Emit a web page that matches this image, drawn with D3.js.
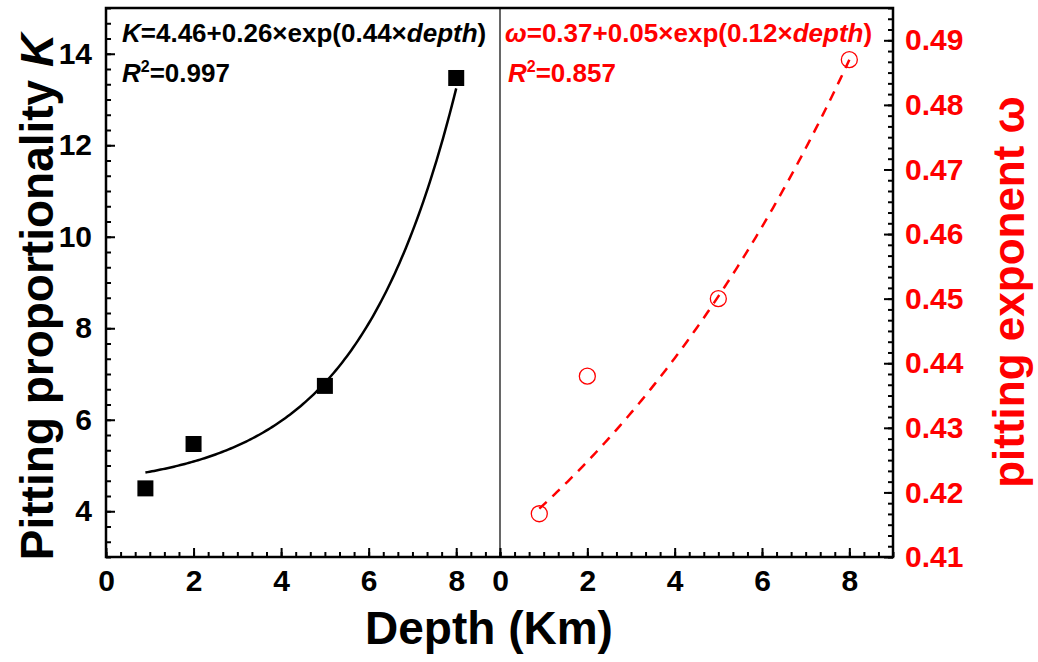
<!DOCTYPE html>
<html>
<head>
<meta charset="utf-8">
<script src="https://cdn.jsdelivr.net/npm/d3@7"></script>
<style>
  body { margin: 0; background: #fff; }
  svg { font-family: "Liberation Sans", Arial, sans-serif; font-weight: bold; }
</style>
</head>
<body>
<div id="chart-area"></div>
<script>
// data
var depth = [0.9, 2, 5, 8];
var kValues = [4.50, 5.47, 6.74, 13.47];
var omegaValues = [0.4167, 0.4380, 0.4500, 0.4870];

// fitted curves  y = a + b*exp(c*depth)
var kFit = { a: 4.46, b: 0.26, c: 0.44 };
var omegaFit = { a: 0.3658, b: 0.0464, c: 0.12 };

var xTicks = [0, 2, 4, 6, 8];
var kTicks = [4, 6, 8, 10, 12, 14];
var omegaTicks = [0.41, 0.42, 0.43, 0.44, 0.45, 0.46, 0.47, 0.48, 0.49];

var width = 1038, height = 662;
var plotLeft = 106, plotMid = 500, plotRight = 893, plotTop = 8, plotBottom = 557;

var svg = d3.select('#chart-area')
    .append('svg')
        .attr('width', width)
        .attr('height', height);

var xL = d3.scaleLinear().domain([0, 9]).range([plotLeft, plotMid]);
var xR = d3.scaleLinear().domain([0, 9]).range([plotMid, plotRight]);
var yK = d3.scaleLinear().domain([3, 15]).range([plotBottom, plotTop]);
var yW = d3.scaleLinear().domain([0.41, 0.495]).range([plotBottom, plotTop]);

function minorTicks(lo, hi, step) {
    var out = [];
    for (var v = lo; v <= hi + 1e-9; v += step) out.push(+v.toFixed(6));
    return out;
}

function styleAxis(sel, color) {
    sel.attr('font-size', null).attr('font-family', null);
    sel.select('.domain').remove();
    sel.selectAll('line').attr('stroke', '#000').attr('stroke-width', 2);
    sel.selectAll('text')
        .attr('fill', color)
        .style('font-size', '30px')
        .style('font-weight', 'bold');
}

// bottom axes, both panels
[xL, xR].forEach(function (x) {
    var gMinor = svg.append('g')
        .attr('transform', 'translate(0,' + plotBottom + ')')
        .call(d3.axisBottom(x).tickValues(minorTicks(0, 9, 1 / 3)).tickFormat('').tickSizeInner(-5).tickSizeOuter(0));
    styleAxis(gMinor, '#000');
    var gMajor = svg.append('g')
        .attr('transform', 'translate(0,' + plotBottom + ')')
        .call(d3.axisBottom(x).tickValues(xTicks).tickFormat(d3.format('d')).tickSizeInner(-9).tickSizeOuter(0).tickPadding(13));
    styleAxis(gMajor, '#000');
});

// left axis (K)
var gKMinor = svg.append('g')
    .attr('transform', 'translate(' + plotLeft + ',0)')
    .call(d3.axisLeft(yK).tickValues(minorTicks(3, 15, 1 / 3)).tickFormat('').tickSizeInner(-5).tickSizeOuter(0));
styleAxis(gKMinor, '#000');
var gK = svg.append('g')
    .attr('transform', 'translate(' + plotLeft + ',0)')
    .call(d3.axisLeft(yK).tickValues(kTicks).tickFormat(d3.format('d')).tickSizeInner(-9).tickSizeOuter(0).tickPadding(14));
styleAxis(gK, '#000');

// right axis (omega)
var gWMinor = svg.append('g')
    .attr('transform', 'translate(' + plotRight + ',0)')
    .call(d3.axisRight(yW).tickValues(minorTicks(0.41, 0.495, 0.01 / 6)).tickFormat('').tickSizeInner(-5).tickSizeOuter(0));
styleAxis(gWMinor, '#000');
var gW = svg.append('g')
    .attr('transform', 'translate(' + plotRight + ',0)')
    .call(d3.axisRight(yW).tickValues(omegaTicks).tickFormat(d3.format('.2f')).tickSizeInner(-9).tickSizeOuter(0).tickPadding(12));
styleAxis(gW, '#ff0000');

// frame and divider
svg.append('rect')
    .attr('x', plotLeft).attr('y', plotTop)
    .attr('width', plotRight - plotLeft).attr('height', plotBottom - plotTop)
    .attr('fill', 'none').attr('stroke', '#000').attr('stroke-width', 2.5);
svg.append('line')
    .attr('x1', plotMid).attr('x2', plotMid).attr('y1', plotTop).attr('y2', plotBottom)
    .attr('stroke', '#000').attr('stroke-width', 1.2);

// fit curves
var fitX = d3.range(0.9, 8.0001, 0.05);
var kLine = d3.line()
    .x(function (d) { return xL(d); })
    .y(function (d) { return yK(kFit.a + kFit.b * Math.exp(kFit.c * d)); });
svg.append('path')
    .datum(fitX)
    .attr('d', kLine)
    .attr('fill', 'none').attr('stroke', '#000').attr('stroke-width', 2.5);

var wLine = d3.line()
    .x(function (d) { return xR(d); })
    .y(function (d) { return yW(omegaFit.a + omegaFit.b * Math.exp(omegaFit.c * d)); });
svg.append('path')
    .datum(fitX)
    .attr('d', wLine)
    .attr('fill', 'none').attr('stroke', '#ff0000').attr('stroke-width', 2.5)
    .attr('stroke-dasharray', '10,8');

// markers
var sq = 16;
svg.selectAll('rect.k').data(depth)
    .enter().append('rect')
    .attr('class', 'k')
    .attr('x', function (d) { return xL(d) - sq / 2; })
    .attr('y', function (d, i) { return yK(kValues[i]) - sq / 2; })
    .attr('width', sq).attr('height', sq)
    .attr('fill', '#000');

svg.selectAll('circle.w').data(depth)
    .enter().append('circle')
    .attr('class', 'w')
    .attr('cx', function (d) { return xR(d); })
    .attr('cy', function (d, i) { return yW(omegaValues[i]); })
    .attr('r', 8)
    .attr('fill', 'none').attr('stroke', '#ff0000').attr('stroke-width', 1.3);

// equations
function equation(x, y, color, parts) {
    var t = svg.append('text').attr('x', x).attr('y', y)
        .attr('fill', color).attr('font-size', '26px');
    parts.forEach(function (p) {
        var s = t.append('tspan').text(p.t);
        if (p.i) s.attr('font-style', 'italic');
        if (p.sup) s.attr('font-size', '16px').attr('dy', -10);
        if (p.down) s.attr('dy', 10);
    });
}
equation(122, 42, '#000', [{ t: 'K', i: true }, { t: '=4.46+0.26×exp(0.44×' }, { t: 'depth', i: true }, { t: ')' }]);
equation(122, 82, '#000', [{ t: 'R', i: true }, { t: '2', sup: true }, { t: '=0.997', down: true }]);
equation(505, 42, '#ff0000', [{ t: 'ω', i: true }, { t: '=0.37+0.05×exp(0.12×' }, { t: 'depth', i: true }, { t: ')' }]);
equation(508, 82, '#ff0000', [{ t: 'R', i: true }, { t: '2', sup: true }, { t: '=0.857', down: true }]);

// axis titles
svg.append('text')
    .attr('x', 489).attr('y', 644)
    .attr('text-anchor', 'middle')
    .attr('font-size', '46px')
    .text('Depth (Km)');

var kTitle = svg.append('text')
    .attr('transform', 'translate(53,' + 297 + ') rotate(-90)')
    .attr('text-anchor', 'middle')
    .attr('font-size', '46px');
kTitle.append('tspan').text('Pitting proportionality ');
kTitle.append('tspan').attr('font-style', 'italic').text('K');

svg.append('text')
    .attr('transform', 'translate(1024,' + 292 + ') rotate(-90)')
    .attr('text-anchor', 'middle')
    .attr('font-size', '44px')
    .attr('fill', '#ff0000')
    .text('pitting exponent ω');
</script>
</body>
</html>
